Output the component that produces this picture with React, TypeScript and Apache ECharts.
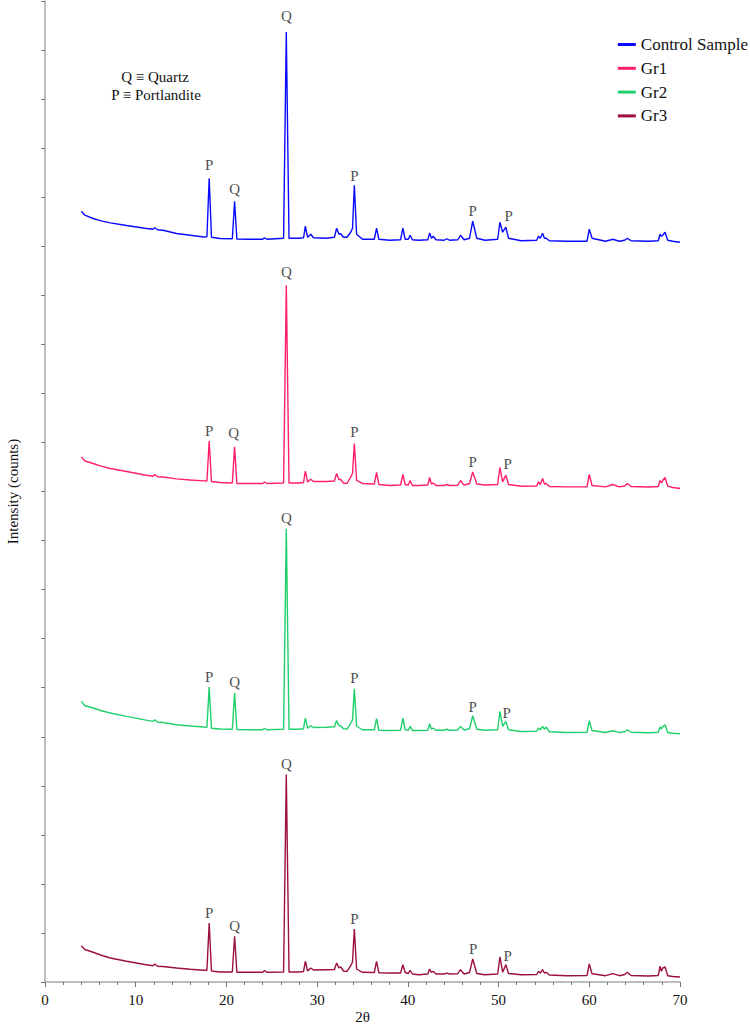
import React, { useEffect, useRef } from "react";
import * as echarts from "echarts";

// 2θ positions (degrees) shared by all four patterns
const twoTheta = [
  4.0, 4.4, 5.3, 6.2, 7.2, 9.0, 11.0, 11.9, 12.1, 12.4, 13.0, 14.5, 16.0, 17.5, 17.85, 18.1, 18.35, 19.3, 20.65, 20.9,
  21.15, 22.5, 24.0, 24.2, 24.45, 26.3, 26.6, 26.9, 28.0, 28.5, 28.7, 28.95, 29.3, 29.6, 31.0, 31.9, 32.15, 32.4, 32.6, 32.9,
  33.3, 33.7, 33.9, 34.1, 34.35, 35.0, 36.3, 36.55, 36.8, 38.0, 39.2, 39.45, 39.7, 40.05, 40.25, 40.5, 41.2, 42.2, 42.4, 42.6,
  42.8, 43.1, 44.0, 44.3, 44.6, 45.5, 45.8, 46.2, 46.8, 47.15, 47.6, 48.5, 49.9, 50.15, 50.45, 50.8, 51.1, 52.5, 54.2, 54.4,
  54.6, 54.85, 55.05, 55.25, 55.6, 57.5, 59.75, 60.0, 60.3, 61.8, 62.6, 63.3, 63.9, 64.2, 64.6, 66.5, 67.6, 67.8, 67.95, 68.1,
  68.35, 68.65, 69.2, 70.0,
];

// intensities above each pattern's own baseline (arbitrary units)
const control = [
  31, 27, 23.7, 21.3, 19.3, 16.7, 14, 13, 14.5, 12.5, 12, 8.7, 7, 5.3, 5.5, 64, 5, 3.7, 3.5, 41,
  3.3, 3, 3, 4.5, 3, 4, 210, 4, 4, 4.5, 16, 5, 8, 4.5, 4, 5, 14, 8, 8.5, 5,
  5, 10, 14, 57, 8, 3, 3, 14, 3, 2, 2.5, 14, 3, 3, 7, 2.5, 2, 2.5, 9.3, 4,
  6, 2.5, 2, 3.5, 2, 2.5, 7, 2.5, 4, 21, 4, 2, 3, 20, 10, 15, 4, 1.5, 2, 6,
  4, 9, 4, 4, 1.5, 1, 1, 13, 4, 1, 3, 1, 2, 4, 1.5, 1, 1.5, 8, 6, 7,
  10, 2, 1, 0,
];
const gr1 = [
  31.6, 27.5, 25, 22.3, 20, 17, 13.5, 12.3, 14, 11.8, 11.5, 9.6, 8.5, 7.6, 7.5, 47.3, 7, 6, 5.5, 41.6,
  5, 5, 5, 6.5, 5, 5.5, 203, 5.5, 5.5, 6, 17.3, 6.5, 9.3, 7, 7, 7.5, 15, 9, 9, 5.5,
  5, 11.6, 15, 45, 8, 5, 4.5, 16, 4, 3, 3.5, 14, 4, 3.5, 8, 3, 3, 3.5, 11, 4.5,
  5.6, 3, 3, 4, 3, 3.3, 8, 3.3, 5, 16.6, 4.5, 3.5, 4, 21, 6.6, 13.3, 4, 2.3, 2.5, 6.6,
  4, 10, 4.5, 5, 2, 1.6, 1.6, 14, 3, 1.6, 4, 1.6, 2.5, 5, 2, 1.5, 2, 8, 5.6, 8,
  11, 2.3, 1, 0,
];
const gr2 = [
  32.3, 28, 25.7, 23, 20.7, 17.3, 13.8, 12.3, 14, 11.8, 11.3, 9, 7.8, 6.7, 6.5, 46.7, 5.5, 4.7, 4.5, 40.7,
  4.2, 4, 4, 5.5, 4, 4.5, 204.7, 4.5, 4.5, 5, 15.7, 5.5, 8, 6.2, 6.5, 7, 13.3, 8, 8, 5,
  4.7, 10.7, 14, 45, 7.5, 4, 4, 15, 3.5, 3.3, 3.5, 15.7, 4, 3.5, 7.3, 3.3, 3.3, 3.5, 10, 4.5,
  5.7, 3.5, 3.5, 4.5, 3.5, 3.8, 7.3, 3.8, 5, 18, 4.5, 3.5, 4, 22.3, 7.3, 12.3, 4, 2.3, 2.5, 5.7,
  4, 7.3, 4.5, 6.7, 2, 1.3, 1.5, 13, 3.3, 1.3, 3, 1.3, 2, 4, 1.5, 1, 1.5, 6.7, 5, 7,
  9, 1.3, 0.5, 0,
];
const gr3 = [
  31.3, 27.5, 24.7, 21.7, 19, 15.7, 12.5, 11.3, 13, 10.8, 10.5, 9, 7.8, 6.7, 6.7, 54, 6, 5, 5, 40.7,
  4.7, 4.7, 4.7, 6.5, 4.7, 5, 202.3, 5, 5, 5.5, 15.7, 6, 9, 7, 7.3, 7.5, 14, 9, 10, 6,
  5.7, 11.3, 15, 48, 8, 4.7, 4.5, 15.7, 4.3, 4, 4, 12.3, 4.5, 3.5, 6.7, 3, 2.3, 3, 8, 4.5,
  5.7, 3, 3, 3.8, 3, 3.3, 7.3, 3, 4.5, 18, 3.5, 2.3, 3, 20, 4.7, 12.3, 3.5, 2.3, 2.5, 5.7,
  4, 7.3, 4, 4.7, 2, 1.3, 1.5, 13, 3.3, 1.3, 3.3, 1.3, 2.5, 4.7, 1.5, 1, 1.5, 10.7, 5.7, 9,
  10, 1.3, 0.5, 0,
];

const seriesNames = ["Control Sample", "Gr1", "Gr2", "Gr3"];
const seriesValues = [control, gr1, gr2, gr3];
const offsets = [739, 493, 248, 5];
const colors = ["#0a0aff", "#ff1f6e", "#1fd06c", "#9c0f40"];

// phase labels: [2θ, height, letter]
const peakLabels: [number, number, string][] = [
  [18.1, 816, "P"], [20.9, 792, "Q"], [26.6, 965, "Q"], [34.1, 805, "P"], [47.15, 770, "P"], [51.1, 765, "P"],
  [18.1, 550, "P"], [20.8, 548, "Q"], [26.6, 709, "Q"], [34.1, 549, "P"], [47.15, 519, "P"], [51.0, 517, "P"],
  [18.1, 305, "P"], [20.9, 300, "Q"], [26.6, 464, "Q"], [34.1, 304, "P"], [47.15, 275, "P"], [50.9, 269, "P"],
  [18.1, 69, "P"], [20.9, 56, "Q"], [26.6, 218, "Q"], [34.1, 63, "P"], [47.2, 33, "P"], [51.0, 26, "P"],
];

const xTicks = { min: 0, max: 70, interval: 10 };
const yTicks = { min: 0, max: 980, interval: 49 };

const serif = "Liberation Serif";

export default function App() {
  const ref = useRef<HTMLDivElement>(null);
  useEffect(() => {
    document.body.style.margin = "0";
    document.body.style.overflow = "hidden";
    if (!ref.current) return;
    const chart = echarts.init(ref.current, undefined, { renderer: "svg" });
    const lines = seriesNames.map((name, i) => ({
      name,
      type: "line",
      data: twoTheta.map((t, k) => [t, offsets[i] + seriesValues[i][k]]),
      showSymbol: false,
      symbol: "none",
      lineStyle: { color: colors[i], width: 1.4 },
      itemStyle: { color: colors[i] },
      z: 3,
    }));
    chart.setOption({
      animation: false,
      backgroundColor: "#ffffff",
      textStyle: { fontFamily: serif },
      grid: { left: 45, right: 70, top: 1, bottom: 42, containLabel: false, outerBoundsMode: "none" },
      legend: {
        data: seriesNames,
        orient: "vertical",
        right: 2,
        top: 36,
        padding: 0,
        icon: "rect",
        itemWidth: 18,
        itemHeight: 3,
        itemGap: 6.8,
        textStyle: { fontFamily: serif, fontSize: 17, color: "#111", lineHeight: 16 },
      },
      xAxis: {
        type: "value",
        min: xTicks.min,
        max: xTicks.max,
        interval: xTicks.interval,
        name: "2θ",
        nameLocation: "middle",
        nameGap: 27,
        nameMoveOverlap: false,
        nameTextStyle: { fontFamily: serif, fontSize: 15, color: "#111", lineHeight: 15 },
        axisLine: { show: true, lineStyle: { color: "#a8a8a8", width: 1.5 } },
        axisTick: { show: true, length: 5, lineStyle: { color: "#777" } },
        minorTick: { show: true, splitNumber: 5, length: 3, lineStyle: { color: "#777" } },
        axisLabel: { fontFamily: serif, fontSize: 15, color: "#111", margin: 10 },
        splitLine: { show: false },
      },
      yAxis: {
        type: "value",
        min: yTicks.min,
        max: yTicks.max,
        interval: yTicks.interval,
        name: "Intensity (counts)",
        nameLocation: "middle",
        nameGap: 25,
        nameMoveOverlap: false,
        nameTextStyle: { fontFamily: serif, fontSize: 15, color: "#111" },
        axisLine: { show: true, lineStyle: { color: "#a8a8a8", width: 1.5 } },
        axisTick: { show: true, length: 4, lineStyle: { color: "#777" } },
        axisLabel: { show: false },
        splitLine: { show: false },
      },
      graphic: [
        {
          type: "text",
          x: 155,
          y: 77,
          style: { text: "Q ≡ Quartz", fontFamily: serif, fontSize: 15, fill: "#111", align: "center", verticalAlign: "middle" },
        },
        {
          type: "text",
          x: 156,
          y: 95,
          style: { text: "P ≡ Portlandite", fontFamily: serif, fontSize: 15, fill: "#111", align: "center", verticalAlign: "middle" },
        },
      ],
      series: [
        ...lines,
        {
          name: "labels",
          type: "scatter",
          data: peakLabels.map(([t, h, s]) => ({ value: [t, h], name: s })),
          symbolSize: 1,
          itemStyle: { color: "rgba(0,0,0,0)" },
          label: {
            show: true,
            position: "inside",
            formatter: (p: any) => p.name,
            fontFamily: serif,
            fontSize: 15,
            color: "#1a1a1a",
          },
          silent: true,
          z: 5,
        },
      ],
    });
    return () => chart.dispose();
  }, []);
  return (
    <div
      ref={ref}
      style={{ position: "fixed", left: 0, top: 0, width: 750, height: 1024 }}
    />
  );
}
